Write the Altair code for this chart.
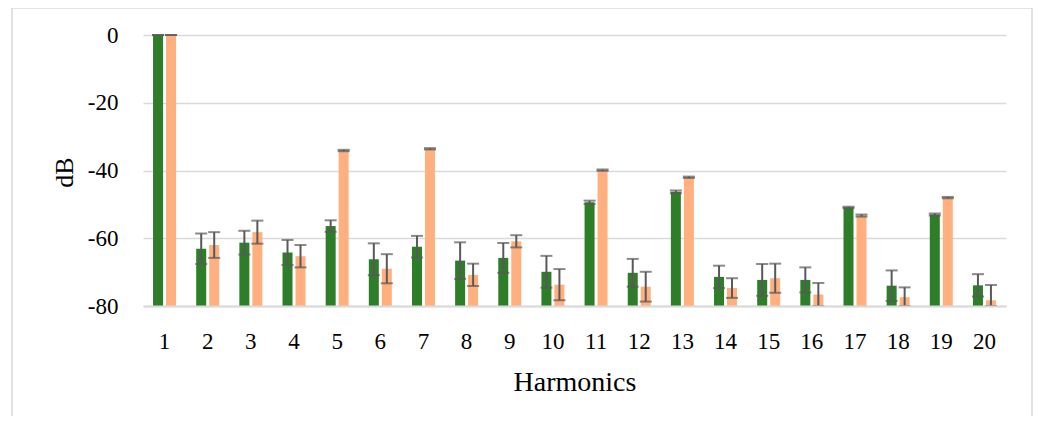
import altair as alt
import pandas as pd

harmonics = list(range(1, 21))
green_vals = [0, -63.1, -61.3, -64.2, -56.4, -66.2, -62.5, -66.6, -65.8, -69.9,
              -49.4, -70.2, -46.3, -71.4, -72.3, -72.3, -50.9, -74.0, -53.0, -73.9]
green_err = [0, 4.5, 3.5, 3.7, 1.7, 4.7, 3.2, 5.4, 4.4, 4.7,
             0.5, 4.1, 0.4, 3.3, 4.7, 3.7, 0.2, 4.5, 0.3, 3.3]
orange_vals = [0, -62.0, -58.2, -65.3, -34.1, -69.0, -33.6, -70.8, -60.9, -73.7,
               -39.9, -74.3, -42.0, -74.7, -71.8, -76.6, -53.3, -77.4, -48.0, -78.3]
orange_err = [0, 3.8, 3.4, 3.3, 0.2, 4.3, 0.2, 3.3, 1.8, 4.6,
              0.2, 4.4, 0.2, 2.9, 4.3, 3.4, 0.3, 2.9, 0.2, 4.5]
series = ["A", "B"]
colors = ["#2E7D28", "#FFB07E"]
y_ticks = [-80, -60, -40, -20, 0]
base_val = -80

rows = []
for i, h in enumerate(harmonics):
    for s, vals, errs in ((series[0], green_vals, green_err), (series[1], orange_vals, orange_err)):
        v = vals[i]
        e = errs[i]
        rows.append({"h": h, "s": s, "v": v, "base": base_val,
                     "lo": max(v - e, base_val), "hi": v + e})
df = pd.DataFrame(rows)

FONT = "Liberation Serif"

x_enc = alt.X("h:O", sort=harmonics,
              scale=alt.Scale(paddingInner=0.467, paddingOuter=0.233),
              axis=alt.Axis(title="Harmonics", labelAngle=0, ticks=False, grid=False,
                            domainColor="#D9D9D9", domainWidth=2, zindex=1,
                            labelFont=FONT, labelFontSize=23, labelColor="#000000",
                            labelPadding=24,
                            titleFont=FONT, titleFontSize=28, titleFontWeight="normal",
                            titleColor="#000000", titleY=84, titleBaseline="alphabetic"))
xo_enc = alt.XOffset("s:N", sort=series, scale=alt.Scale(paddingInner=0.23, paddingOuter=0))
y_scale = alt.Scale(domain=[-80, 0], nice=False)

bars = alt.Chart(df).mark_bar().encode(
    x=x_enc,
    xOffset=xo_enc,
    y=alt.Y("v:Q", scale=y_scale,
            axis=alt.Axis(title="dB", values=y_ticks, domain=False, ticks=False,
                          labelExpr="'' + datum.value",
                          gridColor="#D9D9D9", gridWidth=1.5,
                          labelFont=FONT, labelFontSize=23, labelColor="#000000",
                          labelPadding=25,
                          titleFont=FONT, titleFontSize=26, titleFontWeight="normal",
                          titleColor="#000000", titleX=-71, titleY=137,
                          titleAlign="center", titleBaseline="alphabetic", titleAngle=270)),
    y2="base:Q",
    color=alt.Color("s:N", scale=alt.Scale(domain=series, range=colors), legend=None),
)

rules = alt.Chart(df).mark_rule(color="#595959", strokeWidth=2).encode(
    x=alt.X("h:O", sort=harmonics),
    xOffset=alt.XOffset("s:N", sort=series),
    y=alt.Y("lo:Q"),
    y2="hi:Q",
)

caps_hi = alt.Chart(df).mark_tick(color="#595959", orient="horizontal", size=12, thickness=2).encode(
    x=alt.X("h:O", sort=harmonics),
    xOffset=alt.XOffset("s:N", sort=series),
    y=alt.Y("hi:Q"),
)
caps_lo = alt.Chart(df).mark_tick(color="#595959", orient="horizontal", size=12, thickness=2).encode(
    x=alt.X("h:O", sort=harmonics),
    xOffset=alt.XOffset("s:N", sort=series),
    y=alt.Y("lo:Q"),
)

frame = alt.Chart(pd.DataFrame({"a": [0]})).mark_rect(
    fillOpacity=0, stroke="#D9D9D9", strokeWidth=1.5
).encode(
    x=alt.value(-131), x2=alt.value(889), y=alt.value(-27), y2=alt.value(420)
)

chart = alt.layer(bars, rules, caps_hi, caps_lo, frame).properties(
    width=863, height=271,
    autosize=alt.AutoSizeParams(type="none"),
    padding={"left": 135, "top": 27, "right": 27, "bottom": 110},
).configure_view(strokeWidth=0)

chart.save("out.html", embed_options={"renderer": "svg", "actions": False})
